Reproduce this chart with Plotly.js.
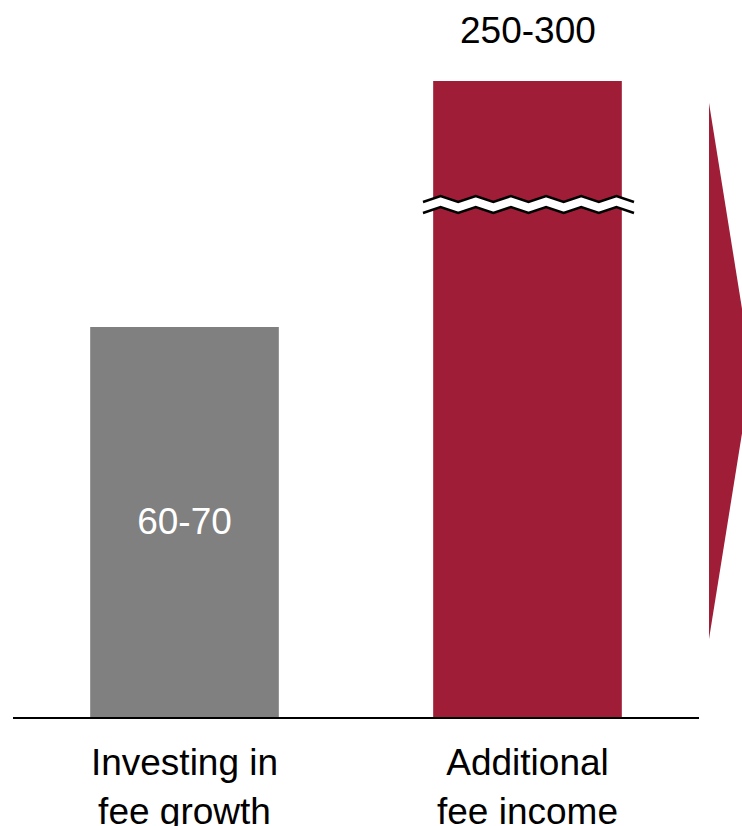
<!DOCTYPE html>
<html>
<head>
<meta charset="utf-8">
<script src="https://cdn.plot.ly/plotly-3.0.1.min.js"></script>
<style>
  html, body { margin: 0; padding: 0; background: #ffffff; }
  #chart { width: 742px; height: 826px; }
</style>
</head>
<body>
<div id="chart"></div>
<script>
// ---- data ----
const categories = ['Investing in<br>fee growth', 'Additional<br>fee income'];
const values = [65, 275];            // midpoints of the displayed ranges
const valueLabels = ['60-70', '250-300'];

// ---- styles ----
const GRAY = '#808080';
const RED = '#A01D38';
const FONT = 'Arial, "Liberation Sans", Helvetica, sans-serif';
const FS = 37;

// broken value axis: lower segment (0..lowerMax) and upper segment
const breakFrac = 0.7793;
const lowerMax = 85.33;
const upperRange = [254.33, 278.5];

const traceLower = {
  type: 'bar',
  x: categories,
  y: values,
  xaxis: 'x', yaxis: 'y',
  width: 0.55,
  marker: { color: [GRAY, RED], line: { width: 0 } },
  text: [valueLabels[0], ''],
  textposition: 'inside',
  insidetextanchor: 'middle',
  textfont: { family: FONT, size: FS, color: '#ffffff' },
  hoverinfo: 'none'
};

const traceUpper = {
  type: 'bar',
  x: [categories[1]],
  y: [values[1]],
  xaxis: 'x', yaxis: 'y2',
  width: 0.55,
  marker: { color: RED, line: { width: 0 } },
  hoverinfo: 'none'
};

// decorative break mark (paper coords, plot area x:13..699px, y:60..717px)
const PL = 13, PW = 686, PB = 717, PH = 657;
const px = v => (v - PL) / PW;
const py = v => (PB - v) / PH;
function zig(x0, x1, n, yLow, yHigh) {
  const pts = [];
  const step = (x1 - x0) / (2 * n);
  for (let i = 0; i <= 2 * n; i++) {
    pts.push([x0 + i * step, i % 2 === 0 ? yLow : yHigh]);
  }
  return pts;
}
const topPts = zig(423, 634, 6, 202, 196);
const botPts = zig(423, 634, 6, 213, 207);
const toPath = pts => pts.map((p, i) => (i ? 'L' : 'M') + px(p[0]).toFixed(5) + ',' + py(p[1]).toFixed(5)).join(' ');
const fillPath = toPath(topPts) + ' ' + botPts.slice().reverse().map(p => 'L' + px(p[0]).toFixed(5) + ',' + py(p[1]).toFixed(5)).join(' ') + ' Z';

const shapes = [
  { type: 'path', xref: 'paper', yref: 'paper', path: fillPath, fillcolor: '#ffffff', line: { width: 0 } },
  { type: 'path', xref: 'paper', yref: 'paper', path: toPath(topPts), line: { color: '#000000', width: 2.5 } },
  { type: 'path', xref: 'paper', yref: 'paper', path: toPath(botPts), line: { color: '#000000', width: 2.5 } },
  // arrow at right edge
  { type: 'path', xref: 'paper', yref: 'paper',
    path: 'M' + px(709) + ',' + py(103) + ' L' + px(752) + ',' + py(371) + ' L' + px(709) + ',' + py(639) + ' Z',
    fillcolor: RED, line: { width: 0 } }
];

const layout = {
  width: 742, height: 826,
  margin: { l: 13, r: 43, t: 60, b: 109 },
  paper_bgcolor: '#ffffff', plot_bgcolor: '#ffffff',
  showlegend: false,
  font: { family: FONT, size: FS, color: '#000000' },
  xaxis: {
    type: 'category',
    range: [-0.5, 1.5],
    showline: true, linecolor: '#000000', linewidth: 2,
    showgrid: false, zeroline: false,
    ticks: '',
    ticklabelstandoff: 12,
    tickfont: { family: FONT, size: FS, color: '#000000' },
    fixedrange: true
  },
  yaxis: {
    domain: [0, breakFrac],
    range: [0, lowerMax],
    visible: false, showgrid: false, zeroline: false, fixedrange: true
  },
  yaxis2: {
    domain: [breakFrac, 1],
    range: upperRange,
    anchor: 'x',
    visible: false, showgrid: false, zeroline: false, fixedrange: true
  },
  annotations: [{
    x: categories[1], y: values[1], xref: 'x', yref: 'y2',
    text: valueLabels[1], showarrow: false,
    yanchor: 'bottom', yshift: 28,
    font: { family: FONT, size: FS, color: '#000000' }
  }],
  shapes: shapes
};

Plotly.newPlot('chart', [traceLower, traceUpper], layout, { displayModeBar: false, staticPlot: true });
</script>
</body>
</html>
